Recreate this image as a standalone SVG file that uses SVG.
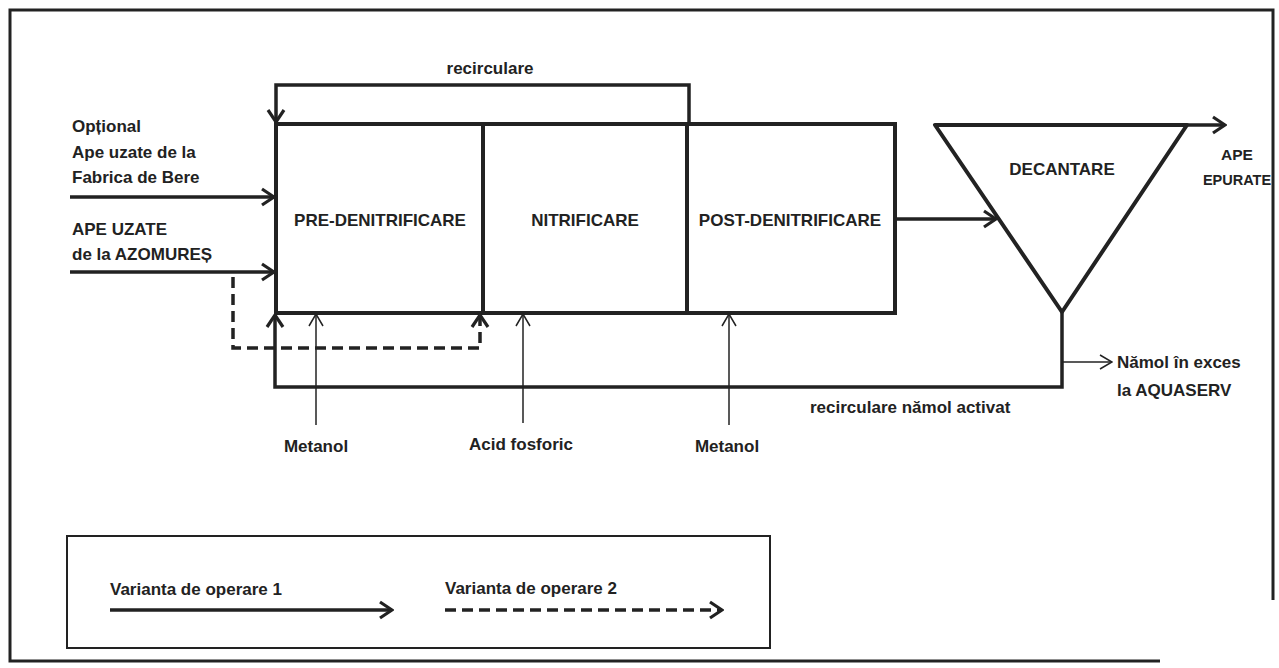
<svg xmlns="http://www.w3.org/2000/svg" width="1279" height="668" viewBox="0 0 1279 668">
<style>
text{font-family:"Liberation Sans",Arial,sans-serif;font-weight:bold;font-size:17px;fill:#222}
.m{text-anchor:middle}
.thick{fill:none;stroke:#222;stroke-width:3.5}
.thin{fill:none;stroke:#222;stroke-width:1.5}
.dash{fill:none;stroke:#222;stroke-width:3.5;stroke-dasharray:11 6}
.box{fill:none;stroke:#222;stroke-width:4}
</style>
<defs>
<marker id="ah" markerUnits="userSpaceOnUse" markerWidth="16" markerHeight="20" viewBox="0 0 16 20" refX="14" refY="10" orient="auto">
<path d="M2,2 L14,10 L2,18" fill="none" stroke="#222" stroke-width="3.2"/>
</marker>
<marker id="at" markerUnits="userSpaceOnUse" markerWidth="14" markerHeight="16" viewBox="0 0 14 16" refX="13" refY="8" orient="auto">
<path d="M1,1 L13,8 L1,15" fill="none" stroke="#222" stroke-width="1.5"/>
</marker>
</defs>
<rect width="1279" height="668" fill="#fff"/>
<path d="M1160,661 H10 V10 H1273 V600" fill="none" stroke="#222" stroke-width="3"/>

<g id="pre-denitrificare">
<rect x="276" y="124" width="207" height="189" class="box"/>
<text x="380" y="226" class="m">PRE-DENITRIFICARE</text>
</g>
<g id="nitrificare">
<rect x="483" y="124" width="204" height="189" class="box"/>
<text x="585" y="226" class="m">NITRIFICARE</text>
</g>
<g id="post-denitrificare">
<rect x="687" y="124" width="208" height="189" class="box"/>
<text x="790" y="226" class="m">POST-DENITRIFICARE</text>
</g>
<g id="decantare">
<path d="M935,125 L1187,125 L1062,312 Z" class="box" stroke-linejoin="round"/>
<text x="1062" y="175" class="m">DECANTARE</text>
</g>

<g id="connectors">
<path d="M689,124 V85 H276 V122" class="thick" marker-end="url(#ah)"/>
<path d="M70,197 H274" class="thick" marker-end="url(#ah)"/>
<path d="M70,272 H274" class="thick" marker-end="url(#ah)"/>
<path d="M233,277 V348 H480 V315" class="dash" marker-end="url(#ah)"/>
<path d="M1062,312 V387 H275 V315" class="thick" marker-end="url(#ah)"/>
<path d="M895,219 H996" class="thick" marker-end="url(#ah)"/>
<path d="M1187,125 H1225" class="thick" marker-end="url(#ah)"/>
<path d="M1062,362 H1112" class="thin" marker-end="url(#at)"/>
<path d="M316,425 V314" class="thin" marker-end="url(#at)"/>
<path d="M523,423 V314" class="thin" marker-end="url(#at)"/>
<path d="M729,425 V314" class="thin" marker-end="url(#at)"/>
</g>

<g id="labels">
<text x="490" y="74" class="m">recirculare</text>
<text x="72" y="132">Opțional</text>
<text x="72" y="158">Ape uzate de la</text>
<text x="72" y="183">Fabrica de Bere</text>
<text x="72" y="235">APE UZATE</text>
<text x="72" y="260">de la AZOMUREȘ</text>
<text x="1237" y="160" class="m" style="font-size:15.5px">APE</text>
<text x="1237" y="185" class="m" style="font-size:14.5px">EPURATE</text>
<text x="1117" y="368">Nămol în exces</text>
<text x="1117" y="396">la AQUASERV</text>
<text x="810" y="413">recirculare nămol activat</text>
<text x="316" y="452" class="m">Metanol</text>
<text x="521" y="450" class="m">Acid fosforic</text>
<text x="727" y="452" class="m">Metanol</text>
</g>

<g id="legend">
<rect x="67" y="536" width="703" height="112" fill="none" stroke="#222" stroke-width="2"/>
<text x="110" y="595">Varianta de operare 1</text>
<path d="M110,610 H392" class="thick" marker-end="url(#ah)"/>
<text x="445" y="594">Varianta de operare 2</text>
<path d="M445,610 H722" class="dash" marker-end="url(#ah)"/>
</g>
</svg>
